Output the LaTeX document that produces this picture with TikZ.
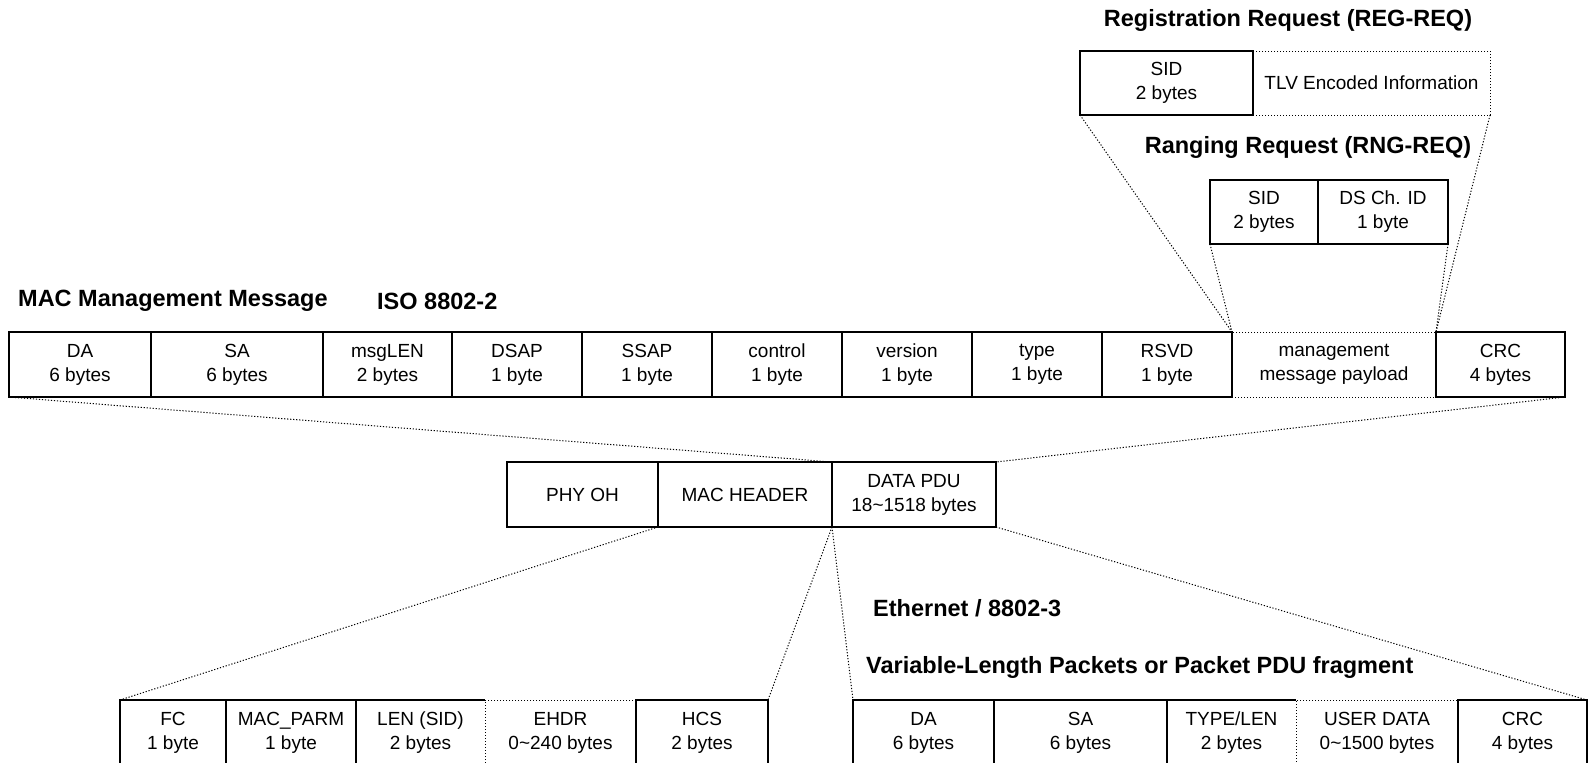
\documentclass[tikz,border=0pt]{standalone}
\usepackage{fontspec}
\setmainfont{Liberation Sans}
\begin{document}
\begin{tikzpicture}[x=1pt,y=-1pt,
  cellbase/.style={minimum height=65pt, inner sep=0pt, outer sep=0pt, anchor=north west, align=center, font=\fontsize{19}{24}\selectfont},
  cell/.style={cellbase, draw, line width=1.3pt},
  dcell/.style={cellbase, draw, line width=1pt, dash pattern=on 1.2pt off 1.8pt},
  ocell/.style={cellbase},
  solidline/.style={line width=1.3pt},
  dotline/.style={line width=1pt, dash pattern=on 1.2pt off 1.8pt},
  ttl/.style={inner sep=0pt, font=\fontsize{23.5}{28}\selectfont\bfseries}
]
\useasboundingbox (0,0) rectangle (1588,763);
% titles
\node[ttl] (regt) at (1288,20) {Registration Request (REG-REQ)};
\node[ttl] (rngt) at (1308,147) {Ranging Request (RNG-REQ)};
\node[ttl, anchor=west] (mact) at (18,301) {MAC Management Message};
\node[ttl, anchor=west] (isot) at (377,301) {ISO 8802-2};
\node[ttl, anchor=west] (etht) at (873,608) {Ethernet / 8802-3};
\node[ttl, anchor=west] (vart) at (866,667) {Variable-Length Packets or Packet PDU fragment};

% REG-REQ
\node[dcell, minimum width=237pt, minimum height=64pt] (tlv) at (1253,51) {TLV Encoded Information};
\node[cell, minimum width=173pt, minimum height=64pt] (rsid) at (1080,51) {SID\\2 bytes};

% RNG-REQ
\node[cell, minimum width=108pt, minimum height=64pt] (gsid) at (1210,180) {SID\\2 bytes};
\node[cell, minimum width=130pt, minimum height=64pt] (gds) at (1318,180) {DS Ch. ID\\1 byte};

% MAC management message row
\node[dcell, minimum width=204pt] (mgmt) at (1232,332) {management\\message payload};
\node[cell, minimum width=142pt] (mda) at (9,332) {DA\\6 bytes};
\node[cell, minimum width=172pt] (msa) at (151,332) {SA\\6 bytes};
\node[cell, minimum width=129pt] (mlen) at (323,332) {msgLEN\\2 bytes};
\node[cell, minimum width=130pt] (mdsap) at (452,332) {DSAP\\1 byte};
\node[cell, minimum width=130pt] (mssap) at (582,332) {SSAP\\1 byte};
\node[cell, minimum width=130pt] (mctl) at (712,332) {control\\1 byte};
\node[cell, minimum width=130pt] (mver) at (842,332) {version\\1 byte};
\node[cell, minimum width=130pt] (mtype) at (972,332) {type\\1 byte};
\node[cell, minimum width=130pt] (mrsvd) at (1102,332) {RSVD\\1 byte};
\node[cell, minimum width=129pt] (mcrc) at (1436,332) {CRC\\4 bytes};

% middle row
\node[cell, minimum width=151pt] (phy) at (507,462) {PHY OH};
\node[cell, minimum width=174pt] (mach) at (658,462) {MAC HEADER};
\node[cell, minimum width=164pt] (data) at (832,462) {DATA PDU\\18\textasciitilde1518 bytes};

% bottom left row (MAC header)
\node[dcell, minimum width=151pt] (ehdr) at (485,700) {EHDR\\0\textasciitilde240 bytes};
\node[cell, minimum width=106pt] (fc) at (120,700) {FC\\1 byte};
\node[cell, minimum width=130pt] (parm) at (226,700) {MAC\_PARM\\1 byte};
\node[ocell, minimum width=129pt] (len) at (356,700) {LEN (SID)\\2 bytes};
\draw[solidline] (len.north east) -- (len.north west) -- (len.south west) -- (len.south east);
\node[cell, minimum width=132pt] (hcs) at (636,700) {HCS\\2 bytes};

% bottom right row (Ethernet)
\node[dcell, minimum width=162pt] (ud) at (1296,700) {USER DATA\\0\textasciitilde1500 bytes};
\node[cell, minimum width=141pt] (eda) at (853,700) {DA\\6 bytes};
\node[cell, minimum width=173pt] (esa) at (994,700) {SA\\6 bytes};
\node[ocell, minimum width=129pt] (etl) at (1167,700) {TYPE/LEN\\2 bytes};
\draw[solidline] (etl.north east) -- (etl.north west) -- (etl.south west) -- (etl.south east);
\node[cell, minimum width=129pt] (ecrc) at (1458,700) {CRC\\4 bytes};

% connectors
\draw[dotline] (rsid.south west) -- (mgmt.north west);
\draw[dotline] (tlv.south east) -- (mgmt.north east);
\draw[dotline] (gsid.south west) -- (mgmt.north west);
\draw[dotline] (gds.south east) -- (mgmt.north east);
\draw[dotline] (mda.south west) -- (data.north west);
\draw[dotline] (mcrc.south east) -- (data.north east);
\draw[dotline] (phy.south east) -- (fc.north west);
\draw[dotline] (data.south west) -- (hcs.north east);
\draw[dotline] (data.south west) -- (eda.north west);
\draw[dotline] (data.south east) -- (ecrc.north east);
\end{tikzpicture}
\end{document}
